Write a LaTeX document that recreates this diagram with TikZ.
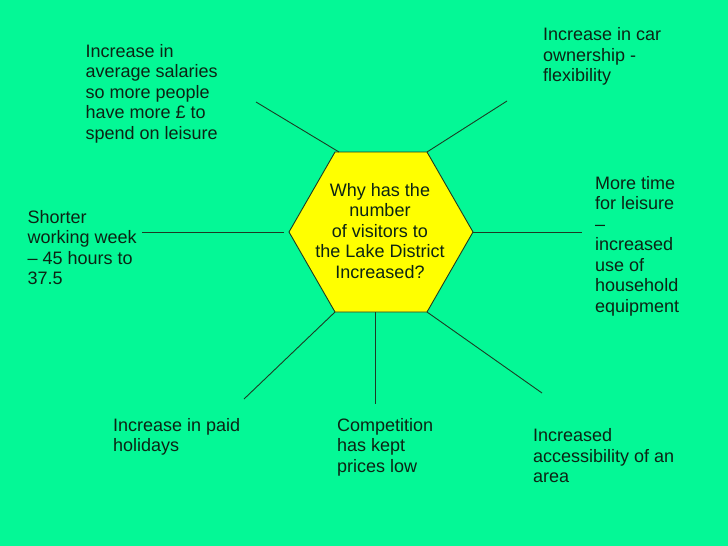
\documentclass[tikz,border=0pt]{standalone}
\usepackage{fontspec}
\setmainfont{Liberation Sans}
\definecolor{bg}{RGB}{4,248,150}
\definecolor{hexfill}{RGB}{255,255,0}
\definecolor{txt}{RGB}{12,36,20}
\definecolor{ln}{RGB}{28,60,36}
\begin{document}
\begin{tikzpicture}[x=1pt,y=-1pt,
  lbl/.style={anchor=north west, inner sep=0pt, align=left, text=txt,
    font=\fontsize{18}{20.5}\selectfont},
  qtext/.style={anchor=north, inner sep=0pt, align=center, text=txt,
    font=\fontsize{18}{20.5}\selectfont},
  conn/.style={draw=ln, line width=0.9pt},
  hex/.style={fill=hexfill, draw=ln, line width=0.9pt, line join=miter}]
\fill[bg] (0,0) rectangle (728,546);
\useasboundingbox (0,0) rectangle (728,546);
% hexagon corners
\coordinate (h0) at (473,232);
\coordinate (h60) at (427,152);
\coordinate (h120) at (335,152);
\coordinate (h180) at (289,232);
\coordinate (h240) at (335,312);
\coordinate (h300) at (427,312);
\coordinate (hb) at (375,312);
\draw[hex] (h0) -- (h60) -- (h120) -- (h180) -- (h240) -- (h300) -- cycle;
\node[qtext] (q) at (380,181.6) {\strut Why has the\\number\\of visitors to\\the Lake District\\Increased?};
% free ends of connectors
\coordinate (e1) at (256,102);
\coordinate (e2) at (507,101);
\coordinate (e3) at (142,232);
\coordinate (e4) at (582,232);
\coordinate (e5) at (244,399);
\coordinate (e6) at (375,404);
\coordinate (e7) at (542,393);
\draw[conn] (e1) -- ([xshift=4pt]h120);
\draw[conn] (h60) -- (e2);
\draw[conn, shorten >=5pt] (e3) -- (h180);
\draw[conn] (h0) -- (e4);
\draw[conn] (h240) -- (e5);
\draw[conn] (hb) -- (e6);
\draw[conn] (h300) -- (e7);
% labels
\node[lbl] (t1) at (85.5,42.6) {\strut Increase in\\average salaries\\so more people\\have more £ to\\spend on leisure};
\node[lbl] (t2) at (543,26.3) {\strut Increase in car\\ownership -\\flexibility};
\node[lbl] (t3) at (27.5,208.9) {\strut Shorter\\working week\\– 45 hours to\\37.5};
\node[lbl] (t4) at (595,174.9) {\strut More time\\for leisure\\–\\increased\\use of\\household\\equipment};
\node[lbl] (t5) at (113,416.6) {\strut Increase in paid\\holidays};
\node[lbl] (t6) at (337,416.6) {\strut Competition\\has kept\\prices low};
\node[lbl] (t7) at (533,427.3) {\strut Increased\\accessibility of an\\area};
\end{tikzpicture}
\end{document}
